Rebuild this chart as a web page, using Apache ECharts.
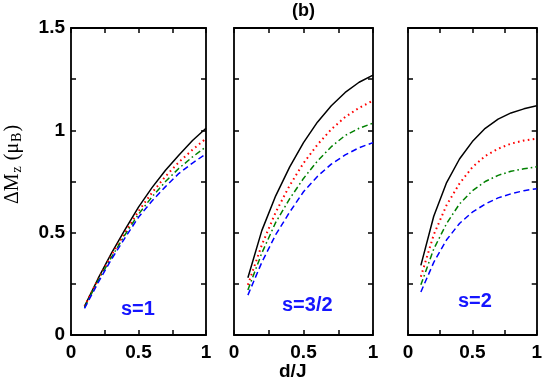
<!DOCTYPE html>
<html>
<head>
<meta charset="utf-8">
<script src="https://cdn.jsdelivr.net/npm/echarts@6/dist/echarts.min.js"></script>
<style>
  html, body { margin: 0; padding: 0; background: #fff; }
  #chart { width: 545px; height: 384px; }
</style>
</head>
<body>
<div id="chart"></div>
<script>
const dValues = [0.1, 0.2, 0.3, 0.4, 0.5, 0.6, 0.7, 0.8, 0.9, 1.0];

// s=1
const s1Black = [0.14, 0.275, 0.40, 0.515, 0.625, 0.72, 0.805, 0.88, 0.95, 1.01];
const s1Red   = [0.14, 0.27, 0.39, 0.50, 0.605, 0.695, 0.775, 0.845, 0.905, 0.96];
const s1Green = [0.135, 0.265, 0.38, 0.49, 0.59, 0.675, 0.75, 0.815, 0.87, 0.92];
const s1Blue  = [0.13, 0.255, 0.37, 0.475, 0.575, 0.655, 0.725, 0.79, 0.84, 0.885];

// s=3/2
const s32Black = [0.28, 0.51, 0.68, 0.82, 0.94, 1.04, 1.12, 1.185, 1.235, 1.27];
const s32Red   = [0.245, 0.44, 0.60, 0.73, 0.84, 0.93, 1.005, 1.065, 1.11, 1.145];
const s32Green = [0.22, 0.40, 0.55, 0.665, 0.765, 0.85, 0.92, 0.975, 1.01, 1.035];
const s32Blue  = [0.195, 0.355, 0.49, 0.60, 0.70, 0.775, 0.835, 0.88, 0.915, 0.94];

// s=2
const s2Black = [0.34, 0.58, 0.745, 0.86, 0.945, 1.01, 1.055, 1.085, 1.105, 1.12];
const s2Red   = [0.285, 0.49, 0.635, 0.74, 0.82, 0.875, 0.91, 0.935, 0.95, 0.96];
const s2Green = [0.245, 0.42, 0.545, 0.64, 0.705, 0.75, 0.78, 0.80, 0.812, 0.822];
const s2Blue  = [0.21, 0.355, 0.465, 0.545, 0.60, 0.64, 0.67, 0.69, 0.705, 0.715];

const panelLabels = ["s=1", "s=3/2", "s=2"];
const xTickLabels = ["0", "0.5", "1"];
const yTickLabels = ["0", "0.5", "1", "1.5"];

const panels = [
  [s1Black, s1Red, s1Green, s1Blue],
  [s32Black, s32Red, s32Green, s32Blue],
  [s2Black, s2Red, s2Green, s2Blue],
];

const grids = [
  { left: 71, width: 135, top: 28, height: 307 },
  { left: 234, width: 139, top: 28, height: 307 },
  { left: 408, width: 131, top: 28, height: 307 },
];

const styles = [
  { color: "#000000", type: "solid", width: 1.5 },
  { color: "#ff0000", type: [1.6, 3.4], width: 2 },
  { color: "#008000", type: [6, 3, 1.6, 3], width: 1.5 },
  { color: "#0000ff", type: [6, 3.5], width: 1.5 },
];

const fmt = (v) => String(Math.round(v * 100) / 100);

function makeAxis(i, isX, mirror, labels) {
  const axis = {
    type: "value",
    gridIndex: i,
    min: 0,
    max: isX ? 1 : 1.5,
    interval: 0.25,
    axisLine: { show: true, onZero: false, lineStyle: { color: "#000", width: 1.8 } },
    axisTick: { show: true, inside: true, length: 5, lineStyle: { color: "#000", width: 1.5 } },
    splitLine: { show: false },
    axisLabel: {
      show: !!labels,
      margin: isX ? 8 : 6,
      color: "#000",
      fontFamily: "Liberation Sans",
      fontWeight: "bold",
      fontSize: 19,
      formatter: (v) => (labels && labels.includes(fmt(v))) ? fmt(v) : "",
    },
  };
  if (mirror) axis.position = isX ? "top" : "right";
  return axis;
}

const xAxes = [];
const yAxes = [];
const series = [];

grids.forEach((g, i) => {
  xAxes.push(makeAxis(i, true, false, xTickLabels));
  const y = makeAxis(i, false, false, i === 0 ? yTickLabels : null);
  if (i === 0) {
    y.name = "ΔM{sub|z} (μ{sub|B})";
    y.nameLocation = "middle";
    y.nameGap = 47;
    y.nameRotate = 90;
    y.nameTextStyle = {
      color: "#000", fontFamily: "Liberation Serif", fontSize: 20,
      padding: [0, 0, 0, 34],
      rich: { sub: { fontFamily: "Liberation Serif", fontSize: 14, color: "#000", padding: [9, 1, 0, 1] } },
    };
  }
  yAxes.push(y);
});
grids.forEach((g, i) => {
  xAxes.push(makeAxis(i, true, true, null));
  yAxes.push(makeAxis(i, false, true, null));
});

panels.forEach((curves, i) => {
  curves.forEach((vals, k) => {
    series.push({
      type: "line",
      xAxisIndex: i,
      yAxisIndex: i,
      data: dValues.map((d, j) => [d, vals[j]]),
      showSymbol: false,
      lineStyle: styles[k],
    });
  });
});

const labelPos = [[121, 299], [282, 295], [458, 291]];
const blueText = { fontFamily: "Liberation Sans", fontWeight: "bold", fontSize: 20, color: "#1515ff" };

const chart = echarts.init(document.getElementById("chart"));
chart.setOption({
  animation: false,
  grid: grids,
  xAxis: xAxes,
  yAxis: yAxes,
  series: series,
  title: [
    { text: "(b)", left: 292, top: 2, padding: 0,
      textStyle: { fontFamily: "Liberation Sans", fontWeight: "bold", fontSize: 18, color: "#000" } },
    { text: "d/J", left: 279, top: 362, padding: 0,
      textStyle: { fontFamily: "Liberation Sans", fontWeight: "bold", fontSize: 19, color: "#000" } },
    ...panelLabels.map((t, i) => ({
      text: t, left: labelPos[i][0], top: labelPos[i][1], padding: 0, textStyle: blueText,
    })),
  ],
});
</script>
</body>
</html>
